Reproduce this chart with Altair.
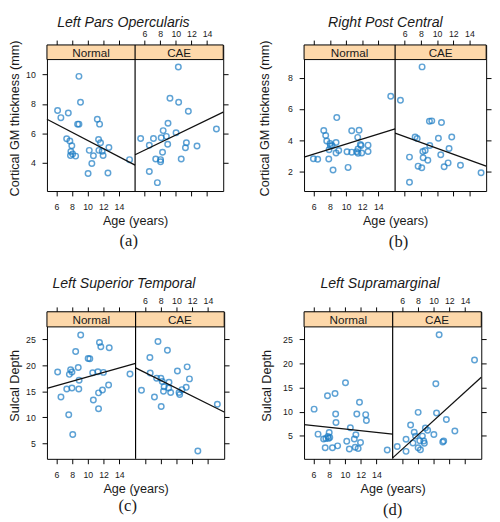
import altair as alt
import pandas as pd

FONT = "Liberation Sans"
TXT = "#1a1a1a"
BLUE = "#1b7cc4"
STRIP = "#fdd8aa"

XMIN, XMAX = 4.8, 16.07
AGE_TICKS = [6, 8, 10, 12, 14]

# ---------- (a) Left Pars Opercularis ----------
A_N_AGE = [6.16, 6.58, 7.53, 8.89, 9.09, 8.72, 8.89, 7.32, 7.73, 7.98, 7.86, 8.08, 7.81, 8.47,
           11.24, 11.53, 11.40, 11.65, 10.21, 11.44, 11.86, 12.72, 10.74, 11.98, 10.54, 10.06, 12.60, 15.36]
A_N_VAL = [7.55, 7.07, 7.39, 9.87, 8.12, 6.63, 6.63, 5.64, 5.49, 5.16, 4.77, 4.61, 4.50, 4.46,
           6.96, 6.63, 5.58, 5.36, 4.85, 4.85, 4.79, 5.05, 4.48, 4.50, 3.96, 3.28, 3.32, 4.22]
A_C_AGE = [5.51, 6.62, 7.15, 6.62, 7.44, 7.65, 8.06, 8.06, 8.31, 8.14, 8.39, 8.80, 8.97, 9.01,
           9.26, 10.04, 10.33, 10.37, 10.70, 11.24, 11.36, 11.61, 12.72, 15.20]
A_C_VAL = [5.66, 5.20, 5.66, 3.41, 4.26, 2.66, 4.22, 4.07, 4.72, 5.71, 6.19, 5.80, 5.27, 6.69,
           8.38, 6.04, 10.50, 8.12, 4.26, 5.03, 5.36, 7.50, 5.14, 6.30]
A_N_FIT = [6.96, 3.85]
A_C_FIT = [4.55, 7.44]

# ---------- (b) Right Post Central ----------
B_N_AGE = [5.96, 6.49, 7.24, 7.48, 7.61, 7.90, 7.86, 8.02, 8.27, 8.06, 8.39, 8.76, 8.85, 8.76, 9.09,
           10.25, 10.12, 10.70, 10.70, 11.32, 11.48, 11.61, 11.44, 11.48, 11.86, 11.94, 12.72, 12.72,
           15.53, 11.77]
B_N_VAL = [2.81, 2.77, 4.62, 4.30, 3.95, 3.39, 2.79, 3.79, 3.66, 3.62, 2.08, 3.85, 5.45, 3.18, 3.33,
           2.25, 3.25, 3.23, 4.60, 3.25, 3.43, 4.64, 4.18, 3.16, 3.66, 3.18, 3.68, 3.27,
           6.82, 3.72]
B_C_AGE = [5.46, 6.58, 6.58, 7.28, 7.53, 7.65, 8.10, 8.14, 8.23, 8.52, 8.27, 8.85, 9.09, 9.05, 9.34,
           10.16, 10.45, 10.54, 10.87, 11.36, 11.48, 11.81, 12.89, 15.44]
B_C_VAL = [6.57, 2.91, 1.29, 4.20, 4.10, 2.33, 2.23, 8.71, 3.27, 3.33, 2.87, 2.71, 3.66, 5.22, 5.24,
           4.12, 3.06, 5.14, 2.29, 2.54, 3.47, 4.20, 2.39, 1.90]
B_N_FIT = [2.91, 4.72]
B_C_FIT = [4.45, 2.33]

# ---------- (c) Left Superior Temporal ----------
C_N_AGE = [6.16, 6.58, 7.32, 7.57, 7.65, 7.81, 7.98, 7.98, 8.08, 8.45, 8.78, 8.89, 8.85, 9.09,
           10.04, 10.25, 10.62, 10.70, 11.28, 11.48, 11.65, 11.36, 11.36, 11.86, 11.98, 12.72, 12.64, 15.36]
C_N_VAL = [18.69, 13.88, 15.44, 10.5, 18.25, 19.13, 18.69, 15.63, 6.69, 22.63, 19.56, 17.13, 15.44, 25.81,
           21.31, 21.25, 18.56, 13.31, 18.75, 24.38, 23.56, 14.69, 11.63, 15.25, 18.63, 23.38, 16.19, 18.31]
C_C_AGE = [5.55, 6.62, 6.66, 7.20, 7.65, 7.48, 8.02, 8.06, 8.19, 8.35, 8.43, 8.85, 9.05, 9.01, 9.26,
           10.12, 10.33, 10.41, 10.70, 11.24, 11.36, 11.65, 12.72, 15.20]
C_C_VAL = [15.19, 21.5, 18.5, 13.88, 24.56, 17.5, 17.5, 12.06, 16.88, 15.0, 15.88, 22.88, 16.75, 15.63, 14.75,
           18.88, 14.75, 14.38, 15.31, 15.75, 19.69, 17.38, 3.5, 12.5]
C_N_FIT = [15.56, 20.38]
C_C_FIT = [19.5, 11.0]

# ---------- (d) Left Supramarginal ----------
D_N_AGE = [6.08, 6.58, 7.29, 7.58, 7.49, 7.78, 7.83, 8.0, 8.07, 7.91, 8.41, 8.74, 8.82, 8.86, 9.07,
           10.07, 10.23, 10.56, 10.69, 11.19, 11.39, 11.51, 11.31, 11.68, 11.85, 11.98, 12.64, 12.73, 15.38]
D_N_VAL = [10.52, 5.34, 4.33, 4.46, 2.51, 13.28, 4.87, 5.67, 4.66, 4.46, 2.51, 13.75, 9.51, 7.76, 2.91,
           15.98, 3.86, 2.24, 6.68, 4.33, 5.2, 9.51, 2.64, 2.37, 11.94, 3.59, 9.38, 8.16, 2.04]
D_C_AGE = [5.38, 6.5, 6.5, 7.08, 7.38, 7.54, 7.71, 8.04, 8.04, 8.25, 8.33, 8.58, 8.83, 8.75, 8.96,
           9.25, 10.04, 10.38, 10.29, 10.71, 11.17, 11.29, 11.63, 12.71, 15.21]
D_C_VAL = [2.78, 4.26, 1.77, 7.22, 3.52, 5.74, 4.93, 9.85, 2.51, 3.99, 2.1, 4.93, 3.45, 3.92, 6.62,
           6.14, 5.27, 9.71, 15.77, 25.94, 3.72, 3.92, 8.37, 6.01, 20.69]
D_N_FIT = [7.29, 5.34]
D_C_FIT = [0.42, 17.12]


def subfigure(title, ylabel, n_age, n_val, c_age, c_val, n_fit, c_fit, ydom, yticks,
              width, height, strip, title_dx, title_y, ytitle_pad, cap, cap_x, cap_y):
    span = XMAX - XMIN
    plot_h = height - strip
    ytop = ydom[1] + (ydom[1] - ydom[0]) * strip / plot_h
    ys = alt.Scale(domain=[ydom[0], ytop], nice=False, zero=False)
    xn = alt.Scale(domain=[XMIN, XMIN + 2 * span], nice=False, zero=False)
    xc = alt.Scale(domain=[XMAX - 2 * span, XMAX], nice=False, zero=False)

    ax_n = alt.Axis(orient="bottom", values=AGE_TICKS + [t + span for t in AGE_TICKS],
                    labelExpr=f"datum.value < {XMAX} ? datum.label : ''",
                    title="Age (years)", titlePadding=3.5)
    ax_c = alt.Axis(orient="top", values=[t - span for t in AGE_TICKS] + AGE_TICKS,
                    labelExpr=f"datum.value > {XMIN} ? datum.label : ''", title=None,
                    labelPadding=1.5)
    ay_l = alt.Axis(orient="left", values=yticks, title=ylabel, titlePadding=ytitle_pad)
    ay_r = alt.Axis(orient="right", values=yticks, labels=False, title=None)

    df_n = pd.DataFrame({"age": n_age, "val": n_val})
    df_c = pd.DataFrame({"age": c_age, "val": c_val})
    fit_n = pd.DataFrame({"age": [XMIN, XMAX], "val": n_fit})
    fit_c = pd.DataFrame({"age": [XMIN, XMAX], "val": c_fit})

    pt = dict(shape="circle", filled=False, color=BLUE, size=32, strokeWidth=1.5)
    ln = dict(color="#111111", strokeWidth=1.3)

    layer_n = alt.layer(
        alt.Chart(df_n).mark_point(**pt).encode(
            x=alt.X("age:Q", scale=xn, axis=ax_n), y=alt.Y("val:Q", scale=ys, axis=ay_l)),
        alt.Chart(fit_n).mark_line(**ln).encode(
            x=alt.X("age:Q", scale=xn, axis=ax_n), y=alt.Y("val:Q", scale=ys, axis=ay_l)),
    )
    layer_c = alt.layer(
        alt.Chart(df_c).mark_point(**pt).encode(
            x=alt.X("age:Q", scale=xc, axis=ax_c), y=alt.Y("val:Q", scale=ys, axis=ay_r)),
        alt.Chart(fit_c).mark_line(**ln).encode(
            x=alt.X("age:Q", scale=xc, axis=ax_c), y=alt.Y("val:Q", scale=ys, axis=ay_r)),
    )

    one = alt.Chart(pd.DataFrame({"k": [0]}))
    strip_rect = one.mark_rect(fill=STRIP, stroke="black", strokeWidth=1).encode(
        x=alt.value(0), x2=alt.value(width), y=alt.value(0), y2=alt.value(strip))
    divider = one.mark_rule(color="black", strokeWidth=1.2).encode(
        x=alt.value(width / 2), y=alt.value(0), y2=alt.value(height))
    txt_n = one.mark_text(font=FONT, fontSize=12, color=TXT, text="Normal").encode(
        x=alt.value(width / 4), y=alt.value(strip / 2 + 0.5))
    txt_c = one.mark_text(font=FONT, fontSize=12, color=TXT, text="CAE").encode(
        x=alt.value(3 * width / 4), y=alt.value(strip / 2 + 0.5))
    ttl = one.mark_text(font=FONT, fontSize=14.5, fontStyle="italic", color=TXT, text=title).encode(
        x=alt.value(width / 2 + title_dx), y=alt.value(title_y))
    caption = one.mark_text(font="Liberation Serif", fontSize=17, color=TXT, text=cap).encode(
        x=alt.value(cap_x), y=alt.value(cap_y))

    return alt.layer(strip_rect, layer_n, layer_c, divider, txt_n, txt_c, ttl, caption).resolve_scale(
        x="independent", y="independent"
    ).properties(width=width, height=height)


a = subfigure("Left Pars Opercularis", "Cortical GM thickness (mm)", A_N_AGE, A_N_VAL, A_C_AGE, A_C_VAL,
              A_N_FIT, A_C_FIT, [2.09, 11.01], [4, 6, 8, 10], 181, 150, 15, -12, -22.5, 4, "(a)", 84, 201)
b = subfigure("Right Post Central", "Cortical GM thickness (mm)", B_N_AGE, B_N_VAL, B_C_AGE, B_C_VAL,
              B_N_FIT, B_C_FIT, [0.73, 9.18], [2, 4, 6, 8], 187, 150, 15, -10, -22.5, 16, "(b)", 97, 202)
c = subfigure("Left Superior Temporal", "Sulcal Depth", C_N_AGE, C_N_VAL, C_C_AGE, C_C_VAL,
              C_N_FIT, C_C_FIT, [2.0, 27.38], [5, 10, 15, 20, 25], 182, 151, 15.5, -12, -28, 4, "(c)", 83, 200)
d = subfigure("Left Supramarginal", "Sulcal Depth", D_N_AGE, D_N_VAL, D_C_AGE, D_C_VAL,
              D_N_FIT, D_C_FIT, [0.22, 27.56], [5, 10, 15, 20, 25], 182, 151, 15.5, -13, -28, 9, "(d)", 91, 204)


def spacer(w, h):
    return alt.Chart(pd.DataFrame({"k": [0]})).mark_point(opacity=0).properties(
        width=w, height=h, view=alt.ViewBackground(stroke="transparent"))


chart = alt.concat(
    a, spacer(76, 150), b, c, spacer(82, 151), d,
    columns=3, spacing={"row": 124, "column": 0}, bounds="flush", align="none",
).properties(padding=0, background="white").configure_view(
    stroke="black", strokeWidth=1
).configure_axis(
    labelFont=FONT, labelFontSize=9, labelColor=TXT, labelPadding=7,
    labelOverlap=False, labelFlush=False, labelBound=False,
    titleFont=FONT, titleFontSize=13, titleFontWeight="normal", titleColor=TXT,
    tickColor="black", tickSize=5, tickWidth=1, domain=False, grid=False,
)

chart.save("out.html", embed_options={"renderer": "svg", "actions": False})
